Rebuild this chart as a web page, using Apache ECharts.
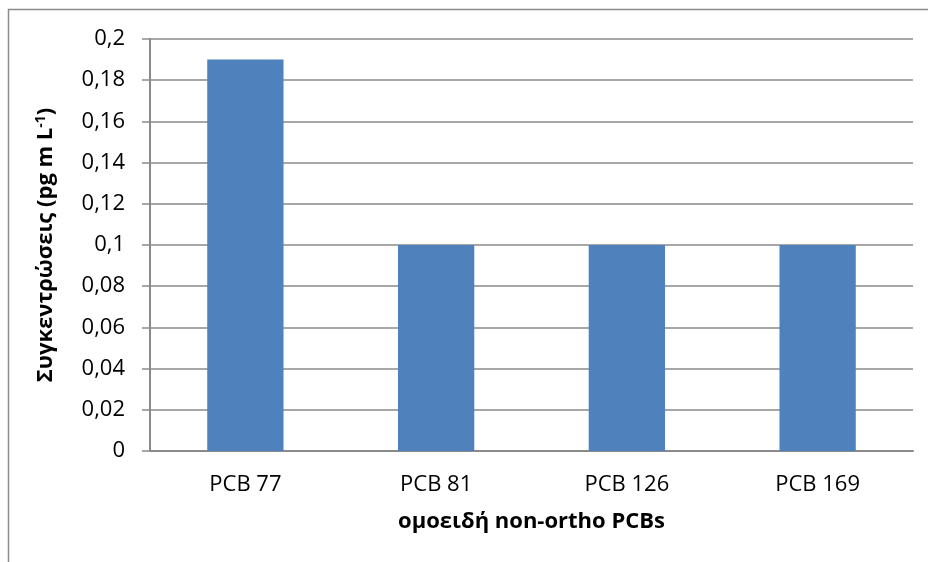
<!DOCTYPE html>
<html>
<head>
<meta charset="utf-8">
<script src="https://cdn.jsdelivr.net/npm/echarts@6/dist/echarts.min.js"></script>
<style>
  html, body { margin: 0; padding: 0; background: #ffffff; }
  #chart { width: 928px; height: 562px; }
</style>
</head>
<body>
<div id="chart"></div>
<script>
// Non-ortho PCB congeners and their concentrations
const categories = ['PCB 77', 'PCB 81', 'PCB 126', 'PCB 169'];
const concentrations = [0.19, 0.1, 0.1, 0.1];

const yMin = 0;
const yMax = 0.2;
const yStep = 0.02;

const xTitle = 'ομοειδή non-ortho PCBs';
const yTitleMain = 'Συγκεντρώσεις (pg m L';
const yTitleSup = '-1';
const yTitleEnd = ')';

const FONT = '"Open Sans", "Noto Sans", sans-serif';
const GRID_COLOR = '#8a8a8a';

const chart = echarts.init(document.getElementById('chart'), null, { renderer: 'canvas' });

chart.setOption({
  backgroundColor: '#ffffff',
  animation: false,
  graphic: [{
    type: 'rect',
    shape: { x: 8.5, y: 9.5, width: 940, height: 570 },
    style: { fill: 'none', stroke: '#8c8c8c', lineWidth: 1.5 },
    silent: true,
    z: -1
  }],
  grid: { left: 150, right: 15, top: 39, bottom: 111, containLabel: false },
  xAxis: {
    type: 'category',
    data: categories,
    name: xTitle,
    nameLocation: 'middle',
    nameGap: 60,
    nameTextStyle: { fontFamily: FONT, fontSize: 22, fontWeight: 'bold', color: '#000' },
    axisLine: { show: true, lineStyle: { color: GRID_COLOR, width: 2 } },
    axisTick: { show: false },
    axisLabel: { fontFamily: FONT, fontSize: 22, color: '#000', margin: 23 },
    splitLine: { show: false }
  },
  yAxis: {
    type: 'value',
    min: yMin,
    max: yMax,
    interval: yStep,
    name: '{m|' + yTitleMain + '}{s|' + yTitleSup + '}{m|' + yTitleEnd + '}',
    nameLocation: 'middle',
    nameGap: 93,
    nameRotate: 90,
    nameTextStyle: {
      rich: {
        m: { fontFamily: FONT, fontSize: 22, fontWeight: 'bold', color: '#000' },
        s: { fontFamily: FONT, fontSize: 14, fontWeight: 'bold', color: '#000', verticalAlign: 'top', padding: [0, 0, 9, 0] }
      }
    },
    axisLine: { show: true, lineStyle: { color: GRID_COLOR, width: 2 } },
    axisTick: { show: true, length: 8, inside: false, lineStyle: { color: GRID_COLOR, width: 1.5 } },
    axisLabel: {
      fontFamily: FONT,
      fontSize: 22,
      color: '#000',
      margin: 25,
      formatter: function (v) {
        return String(Math.round(v * 100) / 100).replace('.', ',');
      }
    },
    splitLine: { show: true, lineStyle: { color: GRID_COLOR, width: 1.5 } }
  },
  series: [{
    type: 'bar',
    data: concentrations,
    barWidth: '40%',
    itemStyle: { color: '#4f81bd' }
  }]
});
</script>
</body>
</html>
